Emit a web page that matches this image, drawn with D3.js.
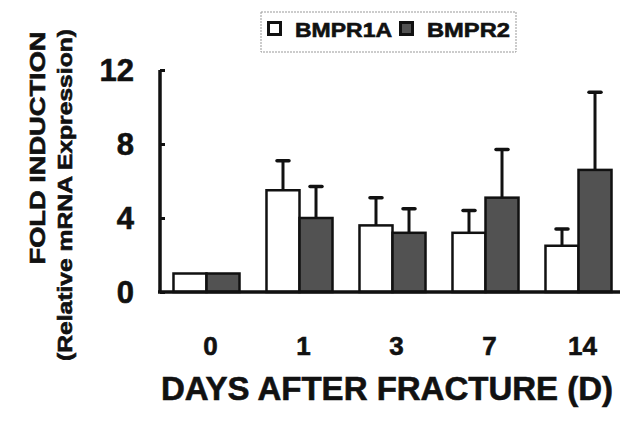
<!DOCTYPE html>
<html>
<head>
<meta charset="utf-8">
<script src="https://cdn.jsdelivr.net/npm/d3@7"></script>
<style>
  body { margin: 0; background: #fff; }
  text { font-family: "Liberation Sans", Arial, sans-serif; font-weight: bold; fill: #111; stroke: #111; stroke-width: 0.6px; }
</style>
</head>
<body>
<div class="chart"></div>
<script>
// DATA
var days = ['0', '1', '3', '7', '14']
var series = ['BMPR1A', 'BMPR2']
var bmpr1a = [1.0, 5.5, 3.6, 3.2, 2.5]
var bmpr1aErr = [0, 1.6, 1.5, 1.2, 0.9]
var bmpr2 = [1.0, 4.0, 3.2, 5.1, 6.6]
var bmpr2Err = [0, 1.7, 1.3, 2.6, 4.2]
var yTicks = [0, 4, 8, 12]

var w = 620
var h = 422

var svg = d3.select('.chart').append('svg')
    .attr('width', w)
    .attr('height', h)

// SCALES
var y = d3.scaleLinear().domain([0, 12]).range([292, 70])
var x = d3.scaleBand().domain(days).range([160, 625]).paddingInner(0.29).paddingOuter(0.145)
var xs = d3.scaleBand().domain(series).range([0, x.bandwidth()])
var fill = d3.scaleOrdinal().domain(series).range(['#fff', '#525252'])

// FLAT LIST OF BARS
var bars = []
days.forEach(function(d, i){
    bars.push({day: d, s: 'BMPR1A', v: bmpr1a[i], e: bmpr1aErr[i]})
    bars.push({day: d, s: 'BMPR2', v: bmpr2[i], e: bmpr2Err[i]})
})

// ERROR BARS (UPPER ONLY)
var errg = svg.append('g').attr('class', 'err_g')
var withErr = bars.filter(function(d){ return d.e > 0 })
errg.selectAll('line.stem').data(withErr).enter().append('line')
    .attr('class', 'stem')
    .attr('x1', function(d){ return x(d.day) + xs(d.s) + xs.bandwidth()/2 })
    .attr('x2', function(d){ return x(d.day) + xs(d.s) + xs.bandwidth()/2 })
    .attr('y1', function(d){ return y(d.v) })
    .attr('y2', function(d){ return y(d.v + d.e) })
    .attr('stroke', '#111').attr('stroke-width', 3)
errg.selectAll('line.cap').data(withErr).enter().append('line')
    .attr('class', 'cap')
    .attr('x1', function(d){ return x(d.day) + xs(d.s) + xs.bandwidth()/2 - 6 })
    .attr('x2', function(d){ return x(d.day) + xs(d.s) + xs.bandwidth()/2 + 6 })
    .attr('y1', function(d){ return y(d.v + d.e) })
    .attr('y2', function(d){ return y(d.v + d.e) })
    .attr('stroke', '#111').attr('stroke-width', 3.5).attr('stroke-linecap', 'round')

// BARS
svg.append('g').attr('class', 'bars_g')
    .selectAll('rect').data(bars).enter().append('rect')
    .attr('x', function(d){ return x(d.day) + xs(d.s) })
    .attr('y', function(d){ return y(d.v) })
    .attr('width', xs.bandwidth())
    .attr('height', function(d){ return y(0) - y(d.v) })
    .attr('fill', function(d){ return fill(d.s) })
    .attr('stroke', '#111')
    .attr('stroke-width', 2.5)

// Y AXIS - TICKS POINT INWARD
var yAxis = svg.append('g').attr('transform', 'translate(160,0)')
    .call(d3.axisRight(y).tickValues(yTicks).tickSize(5).tickFormat(''))
yAxis.select('.domain').remove()
yAxis.selectAll('line').attr('stroke', '#111').attr('stroke-width', 3)
svg.append('line')
    .attr('x1', 160).attr('x2', 160)
    .attr('y1', y(12)).attr('y2', y(0))
    .attr('stroke', '#111').attr('stroke-width', 3.5)

svg.append('g').selectAll('text').data(yTicks).enter().append('text')
    .attr('x', 134)
    .attr('y', function(d){ return y(d) + 11 })
    .attr('text-anchor', 'end')
    .style('font-size', '31px')
    .text(function(d){ return d })

// X AXIS BASELINE + LABELS
svg.append('line')
    .attr('x1', 158).attr('x2', 620)
    .attr('y1', y(0)).attr('y2', y(0))
    .attr('stroke', '#111').attr('stroke-width', 3.5)

svg.append('g').selectAll('text').data(days).enter().append('text')
    .attr('x', function(d){ return x(d) + x.bandwidth()/2 + 4 })
    .attr('y', 355)
    .attr('text-anchor', 'middle')
    .style('font-size', '26px')
    .text(function(d){ return d })

// AXIS TITLES
svg.append('text')
    .attr('x', 387).attr('y', 400)
    .attr('text-anchor', 'middle')
    .style('font-size', '33px')
    .text('DAYS AFTER FRACTURE (D)')

svg.append('text')
    .attr('transform', 'translate(45,148) rotate(-90)')
    .attr('text-anchor', 'middle')
    .attr('textLength', 233).attr('lengthAdjust', 'spacingAndGlyphs')
    .style('font-size', '22px')
    .text('FOLD INDUCTION')

svg.append('text')
    .attr('transform', 'translate(72,195) rotate(-90)')
    .attr('text-anchor', 'middle')
    .attr('textLength', 332).attr('lengthAdjust', 'spacingAndGlyphs')
    .style('font-size', '21px')
    .text('(Relative mRNA Expression)')

// LEGEND
var legend = svg.append('g').attr('class', 'legend_g')
legend.append('rect')
    .attr('x', 261).attr('y', 12).attr('width', 255).attr('height', 40)
    .attr('fill', 'none').attr('stroke', '#999').attr('stroke-width', 1)
    .attr('stroke-dasharray', '2,1')

var legX = [267, 399]
var legTextW = [97, 83]
series.forEach(function(s, i){
    legend.append('rect')
        .attr('x', legX[i] + 1.5).attr('y', 22.5).attr('width', 12).attr('height', 12)
        .attr('fill', fill(s)).attr('stroke', '#111').attr('stroke-width', 3)
    legend.append('text')
        .attr('x', legX[i] + 28).attr('y', 37)
        .attr('textLength', legTextW[i]).attr('lengthAdjust', 'spacingAndGlyphs')
        .style('font-size', '20px')
        .text(s)
})
</script>
</body>
</html>
